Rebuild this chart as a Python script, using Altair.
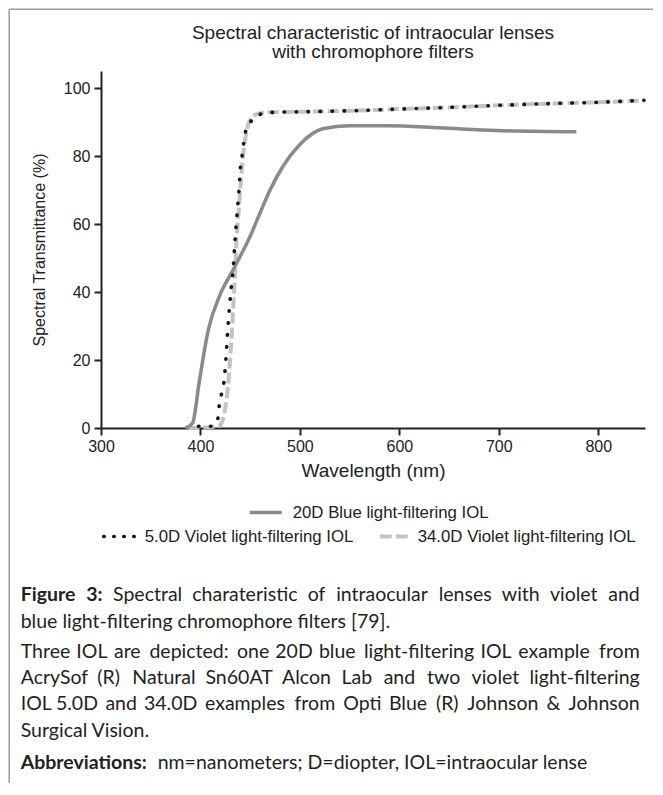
import altair as alt
import pandas as pd

# ---------------- data ----------------
blue_wl = [385, 392, 399, 408, 419, 433, 450, 460, 470, 483, 500, 523, 550, 590, 640, 697, 778]
blue_t = [0, 1.4, 14, 29, 38.7, 46.6, 56.4, 63.3, 70, 77, 83.4, 88, 88.9, 88.9, 88.3, 87.5, 87.1]

v5_wl = [398, 412, 417, 419, 421, 423.5, 425.5, 427, 428.7, 430.4, 432.8, 434.5, 436.5, 438.8,
         440.2, 441.8, 445, 449.5, 458, 470, 500, 550, 600, 650, 700, 750, 800, 846]
v5_t = [0.5, 0.5, 2, 6.8, 9.8, 13.3, 20, 26.9, 33.8, 39.7, 46.5, 54, 62, 70,
        76.7, 80, 86.7, 89.6, 92, 92.8, 93.0, 93.3, 93.8, 94.3, 94.9, 95.4, 95.8, 96.4]

v34_wl = [388, 418, 422, 424.5, 426.5, 428.5, 430.5, 432.7, 434.5, 436.2, 438.5, 441, 444, 447,
          452, 460, 470, 500, 550, 600, 650, 700, 750, 800, 846]
v34_t = [0, 0.5, 2, 5, 9, 15, 23, 34, 44, 55, 64, 74, 83, 88,
         91.5, 92.6, 92.9, 93.0, 93.3, 93.8, 94.3, 94.9, 95.4, 95.8, 96.3]

x_ticks = [300, 400, 500, 600, 700, 800]
y_ticks = [0, 20, 40, 60, 80, 100]

title_lines = ["Spectral characteristic of intraocular lenses", "with chromophore filters"]
legend_labels = ["20D  Blue light-filtering IOL", "5.0D Violet light-filtering IOL",
                 "34.0D Violet light-filtering IOL"]
x_title = "Wavelength (nm)"
y_title = "Spectral Transmittance (%)"

caption_bold = ["Figure 3:", "Abbreviations:"]
caption_first = "Spectral charateristic of intraocular lenses with violet and"
caption_lines = [
    "blue light-filtering chromophore filters [79].",
    "Three IOL are depicted: one 20D blue light-filtering IOL example from",
    "AcrySof (R) Natural Sn60AT Alcon Lab and two violet light-filtering",
    "IOL 5.0D and 34.0D examples from Opti Blue (R) Johnson & Johnson",
    "Surgical Vision.",
]
caption_last = "nm=nanometers; D=diopter, IOL=intraocular lense"
# which caption lines are justified (full width) in the figure
justified = [True, False, True, True, True, False, False]

# ---------------- layout ----------------
W, H = 544, 357
AX = "#222222"
FONT = "Liberation Sans"
CAP_FONT = "Lato"
CAP_COLOR = "#231f20"
one = pd.DataFrame({"a": [0]})

xs = alt.Scale(domain=[300, 847], nice=False, zero=False)
ys = alt.Scale(domain=[0, 105], nice=False)

xaxis = alt.Axis(values=x_ticks, grid=False, domainColor=AX, domainWidth=2, tickColor=AX,
                 tickWidth=2, tickSize=7, labelFontSize=16, labelFont=FONT, labelColor=AX,
                 labelPadding=3, labelFlush=False, titleFontSize=19, titleFont=FONT,
                 titleFontWeight="normal", titleColor=AX, titlePadding=7)
yaxis = alt.Axis(values=y_ticks, grid=False, domainColor=AX, domainWidth=2, tickColor=AX,
                 tickWidth=2, tickSize=7, labelFontSize=16, labelFont=FONT, labelColor=AX,
                 labelPadding=4, labelFlush=False, titleFontSize=16, titleFont=FONT,
                 titleFontWeight="normal", titleColor=AX, titlePadding=16)


def curve(wl, t, **kw):
    df = pd.DataFrame({"wl": wl, "t": t})
    return alt.Chart(df).mark_line(interpolate="monotone", **kw).encode(
        x=alt.X("wl:Q", scale=xs, axis=xaxis, title=x_title),
        y=alt.Y("t:Q", scale=ys, axis=yaxis, title=y_title),
    )


def text(s, x, y, size, font=FONT, align="left", weight="normal", color=AX):
    return alt.Chart(one).mark_text(text=s, align=align, baseline="middle", fontSize=size,
                                    font=font, fontWeight=weight, color=color).encode(
        x=alt.value(x), y=alt.value(y))


def hrule(x1, x2, y, **kw):
    return alt.Chart(one).mark_rule(**kw).encode(x=alt.value(x1), x2=alt.value(x2), y=alt.value(y))


def vrule(x, y1, y2, **kw):
    return alt.Chart(one).mark_rule(**kw).encode(x=alt.value(x), y=alt.value(y1), y2=alt.value(y2))


# approximate relative glyph advances (em) of a humanist sans, used only to
# spread words of justified caption lines
CW = {" ": .226, "a": .479, "b": .525, "c": .423, "d": .525, "e": .498, "f": .305, "g": .471,
      "h": .525, "i": .229, "j": .239, "k": .455, "l": .229, "m": .799, "n": .525, "o": .527,
      "p": .525, "q": .525, "r": .349, "s": .391, "t": .335, "u": .525, "v": .452, "w": .715,
      "x": .433, "y": .453, "z": .395, "A": .579, "B": .544, "C": .533, "D": .615, "F": .459,
      "I": .252, "J": .319, "L": .420, "N": .646, "O": .662, "R": .543, "S": .459, "T": .487,
      "V": .581, "(": .303, ")": .303, "&": .682, ":": .268, "-": .306, ".": .252, ";": .268,
      "=": .498, ",": .25, "[": .305, "]": .305}


def tw(s, bold=False):
    return sum(CW.get(c, .507) for c in s) * (1.04 if bold else 1.0)


CX = -80.3            # caption left edge (relative to plot origin)
CR = CX + 619         # caption right edge
CS = 19.5


def justified_line(words, bolds, y, natural):
    """place words so that the line spans CX..CR; natural = rendered width of line."""
    n = len(words)
    widths = [tw(w, b) for w, b in zip(words, bolds)]
    total = sum(widths) + (n - 1) * tw(" ")
    sc = natural / total
    extra = (CR - CX - natural) / (n - 1)
    out = []
    cum = 0.0
    for k, (w, b, wd) in enumerate(zip(words, bolds, widths)):
        if k == 0:
            xx, al = CX, "left"
        elif k == n - 1:
            xx, al = CR, "right"
        else:
            xx, al = CX + sc * (cum + wd / 2) + k * extra, "center"
        out.append(text(w, xx, y, CS, font=CAP_FONT, align=al,
                        weight="bold" if b else "normal", color=CAP_COLOR))
        cum += wd + tw(" ")
    return out


layers = []
layers.append(curve(v34_wl, v34_t, color="#c3c3c3", strokeWidth=4, strokeDash=[11, 4]))
layers.append(curve(blue_wl, blue_t, color="#8a8a8a", strokeWidth=3.5))
layers.append(curve(v5_wl, v5_t, color="#151515", strokeWidth=3.6, strokeDash=[0.5, 11.5],
                    strokeCap="round"))

# title
layers.append(text(title_lines[0], W / 2, -38.5, 19, align="center"))
layers.append(text(title_lines[1], W / 2, -19.5, 19, align="center"))

# legend
LS = 16.8
layers.append(hrule(148.7, 180.7, 441.5, color="#8a8a8a", strokeWidth=3.5))
layers.append(text(legend_labels[0], 191.7, 441.5, LS))
layers.append(hrule(2.7, 33.7, 465.5, color="#151515", strokeWidth=3.6, strokeDash=[0.5, 9.5],
                    strokeCap="round"))
layers.append(text(legend_labels[1], 43.7, 465.5, LS))
layers.append(hrule(278.7, 306.7, 465.5, color="#c3c3c3", strokeWidth=4, strokeDash=[12, 4]))
layers.append(text(legend_labels[2], 316.7, 465.5, LS))

# caption
cap_y = [523.5, 550.5, 580.5, 606.5, 632.5, 659.5, 691.5]
natural_w = {0: 566, 2: 594, 3: 552, 4: 585}

first_words = caption_bold[0].split(" ") + caption_first.split(" ")
first_bold = [True] * len(caption_bold[0].split(" ")) + [False] * len(caption_first.split(" "))
layers += justified_line(first_words, first_bold, cap_y[0], natural_w[0])
for i, (s, yy) in enumerate(zip(caption_lines, cap_y[1:6]), start=1):
    if justified[i]:
        ws = s.split(" ")
        layers += justified_line(ws, [False] * len(ws), yy, natural_w[i])
    else:
        layers.append(text(s, CX, yy, CS, font=CAP_FONT, color=CAP_COLOR))
layers.append(text(caption_bold[1], CX, cap_y[6], CS, font=CAP_FONT, weight="bold", color=CAP_COLOR))
layers.append(text(caption_last, 56.7, cap_y[6], CS, font=CAP_FONT, color=CAP_COLOR))

# figure border
layers.append(vrule(-91.8, -61.8, 712, color="#9a9a9a", strokeWidth=1.5))
layers.append(hrule(-91.8, 552, -61.8, color="#9a9a9a", strokeWidth=1.5))

chart = alt.layer(*layers).properties(
    width=W, height=H, padding=0, autosize=alt.AutoSizeParams(type="pad"),
    background="white",
).configure_view(stroke="transparent")

chart.save("out.html", embed_options={"renderer": "svg", "actions": False})
